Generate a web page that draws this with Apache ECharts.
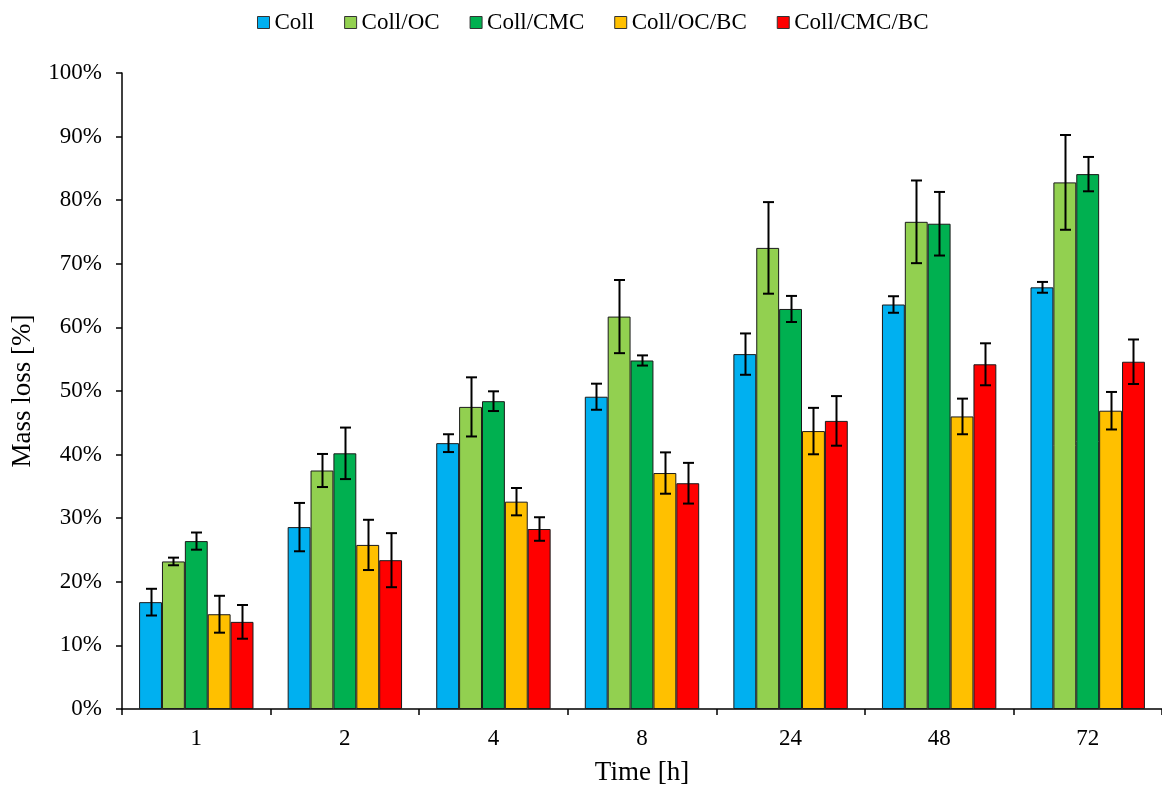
<!DOCTYPE html>
<html>
<head>
<meta charset="utf-8">
<script src="https://cdn.jsdelivr.net/npm/echarts@6/dist/echarts.min.js"></script>
<style>html,body{margin:0;padding:0;background:#fff;}#c{width:1162px;height:791px;}</style>
</head>
<body>
<div id="c"></div>
<script>
const categories = ['1', '2', '4', '8', '24', '48', '72'];
const seriesNames = ['Coll', 'Coll/OC', 'Coll/CMC', 'Coll/OC/BC', 'Coll/CMC/BC'];
const colors = ['#00B0F0', '#92D050', '#00B050', '#FFC000', '#FF0000'];
const collValues = [16.8, 28.6, 41.8, 49.1, 55.8, 63.6, 66.3];
const collErr = [2.1, 3.8, 1.4, 2.05, 3.25, 1.3, 0.85];
const collOcValues = [23.2, 37.5, 47.5, 61.7, 72.5, 76.6, 82.8];
const collOcErr = [0.6, 2.6, 4.65, 5.75, 7.2, 6.5, 7.45];
const collCmcValues = [26.4, 40.2, 48.4, 54.8, 62.9, 76.3, 84.1];
const collCmcErr = [1.35, 4.05, 1.55, 0.8, 2.05, 5.0, 2.7];
const collOcBcValues = [14.9, 25.8, 32.6, 37.1, 43.7, 46.0, 46.9];
const collOcBcErr = [2.9, 3.95, 2.15, 3.25, 3.65, 2.8, 2.95];
const collCmcBcValues = [13.7, 23.4, 28.3, 35.5, 45.3, 54.2, 54.6];
const collCmcBcErr = [2.65, 4.25, 1.85, 3.2, 3.9, 3.3, 3.5];

const allValues = [collValues, collOcValues, collCmcValues, collOcBcValues, collCmcBcValues];
const allErr = [collErr, collOcErr, collCmcErr, collOcBcErr, collCmcBcErr];

const FONT = "'Liberation Serif', 'Times New Roman', serif";
const CAT_GAP = 0.23;
const N = seriesNames.length;

const chart = echarts.init(document.getElementById('c'), null, {renderer: 'canvas'});

const series = [];
seriesNames.forEach((name, k) => {
  series.push({
    name: name,
    type: 'bar',
    data: allValues[k],
    barGap: '0%',
    barCategoryGap: (CAT_GAP * 100) + '%',
    itemStyle: {color: colors[k], borderColor: '#1a1a1a', borderWidth: 1},
    emphasis: {disabled: true}
  });
});
seriesNames.forEach((name, k) => {
  series.push({
    name: name + ' err',
    type: 'custom',
    data: allValues[k].map((v, i) => [i, v, allErr[k][i]]),
    encode: {x: 0, y: 1},
    z: 10,
    silent: true,
    renderItem: function (params, api) {
      const i = api.value(0), v = api.value(1), e = api.value(2);
      const band = api.size([1, 0])[0];
      const bw = band * (1 - CAT_GAP) / N;
      const c = api.coord([i, v]);
      const x = Math.round(c[0] + (k - (N - 1) / 2) * bw) + 0.5;
      const yt = api.coord([i, v + e])[1];
      const yb = api.coord([i, v - e])[1];
      const cap = 5.5;
      const st = {stroke: '#000', lineWidth: 2};
      return {
        type: 'group',
        children: [
          {type: 'line', shape: {x1: x, y1: yt, x2: x, y2: yb}, style: st},
          {type: 'line', shape: {x1: x - cap, y1: yt, x2: x + cap, y2: yt}, style: st},
          {type: 'line', shape: {x1: x - cap, y1: yb, x2: x + cap, y2: yb}, style: st}
        ]
      };
    }
  });
});

chart.setOption({
  animation: false,
  backgroundColor: '#fff',
  textStyle: {fontFamily: FONT, color: '#000'},
  legend: {
    data: seriesNames,
    left: 252,
    top: 6,
    icon: 'rect',
    itemWidth: 12,
    itemHeight: 12,
    itemGap: 30,
    itemStyle: {borderColor: '#333', borderWidth: 1},
    textStyle: {fontFamily: FONT, fontSize: 23, color: '#000'}
  },
  grid: {left: 122, right: -3, top: 73, bottom: 77, containLabel: false},
  xAxis: {
    type: 'category',
    data: categories,
    name: 'Time [h]',
    nameLocation: 'middle',
    nameGap: 50,
    nameTextStyle: {fontFamily: FONT, fontSize: 27, color: '#000'},
    axisLine: {lineStyle: {color: '#000', width: 1.5}},
    axisTick: {show: true, length: 6, lineStyle: {color: '#000', width: 1.5}},
    axisLabel: {fontFamily: FONT, fontSize: 23, color: '#000', margin: 18}
  },
  yAxis: {
    type: 'value',
    min: 0,
    max: 100,
    interval: 10,
    name: 'Mass loss [%]',
    nameLocation: 'middle',
    nameGap: 86,
    nameTextStyle: {fontFamily: FONT, fontSize: 27, color: '#000'},
    axisLine: {show: true, lineStyle: {color: '#000', width: 1.5}},
    axisTick: {show: true, length: 6, lineStyle: {color: '#000', width: 1.5}},
    axisLabel: {fontFamily: FONT, fontSize: 23, color: '#000', margin: 20, formatter: '{value}%'},
    splitLine: {show: false}
  },
  series: series
});
</script>
</body>
</html>
